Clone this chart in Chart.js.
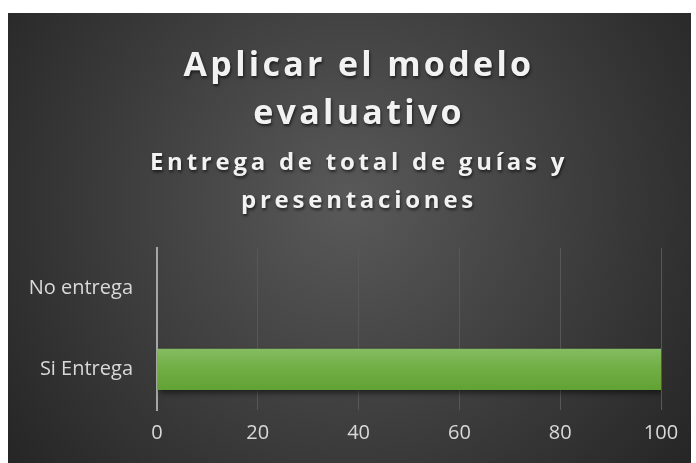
<!DOCTYPE html>
<html>
<head>
<meta charset="utf-8">
<script src="https://cdn.jsdelivr.net/npm/chart.js@4.4.1/dist/chart.umd.min.js"></script>
<style>
  html, body { margin: 0; background: #fff; }
  #wrap { position: absolute; left: 8px; top: 13px; width: 683px; height: 450px; }
</style>
</head>
<body>
<div id="wrap"><canvas id="entregas"></canvas></div>
<script>
// datos
var categories = ['No entrega', 'Si Entrega'];
var values = [0, 100];
var xTicks = [0, 20, 40, 60, 80, 100];
var titleLines = ['Aplicar el modelo', 'evaluativo'];
var subtitleLines = ['Entrega de total de guías y', 'presentaciones'];

var TITLE_CENTER = 351; // centro horizontal de los titulos (px del canvas)

// fondo oscuro + espaciado de letras en los titulos
var backdrop = {
  id: 'backdrop',
  beforeDraw: function (chart) {
    var ctx = chart.ctx, w = chart.width, h = chart.height;
    var g = ctx.createRadialGradient(w * 0.5, h * 0.42, 0, w * 0.5, h * 0.42, w * 0.62);
    g.addColorStop(0, '#595959');
    g.addColorStop(1, '#262626');
    ctx.save();
    ctx.fillStyle = g;
    ctx.fillRect(0, 0, w, h);
    ctx.restore();

    chart.boxes.forEach(function (box) {
      if (box.options && box.options.text !== undefined && !box._spaced) {
        box._spaced = true;
        var orig = box.draw;
        box.draw = function () {
          var c = this.ctx;
          c.save();
          c.translate(TITLE_CENTER - (this.left + this.right) / 2, 0);
          c.letterSpacing = this.options.font.size > 30 ? '3.3px' : '3.75px';
          c.shadowColor = 'rgba(0,0,0,0.6)';
          c.shadowOffsetX = 1;
          c.shadowOffsetY = 2;
          c.shadowBlur = 3;
          orig.apply(this, arguments);
          c.restore();
        };
      }
    });
  },
  beforeDatasetsDraw: function (chart) {
    var ctx = chart.ctx;
    ctx.save();
    ctx.shadowColor = 'rgba(0,0,0,0.55)';
    ctx.shadowOffsetX = 2;
    ctx.shadowOffsetY = 3;
    ctx.shadowBlur = 6;
  },
  afterDatasetsDraw: function (chart) {
    chart.ctx.restore();
  }
};

function barFill(c) {
  var chart = c.chart;
  if (!chart.chartArea) return '#70ad47';
  var y = chart.scales.y;
  var mid = y.getPixelForValue(c.dataIndex);
  var half = (chart.chartArea.height / categories.length) * 0.255;
  var g = chart.ctx.createLinearGradient(0, mid - half, 0, mid + half);
  g.addColorStop(0, '#84bd62');
  g.addColorStop(0.5, '#70ad42');
  g.addColorStop(1, '#61a235');
  return g;
}

var ctx = document.getElementById('entregas').getContext('2d');
var chart = new Chart(ctx, {
  type: 'bar',
  data: {
    labels: categories,
    datasets: [
      {
        data: values,
        backgroundColor: barFill,
        borderWidth: 0,
        barPercentage: 0.51,
        categoryPercentage: 1,
      },
    ],
  },
  options: {
    indexAxis: 'y',
    responsive: true,
    maintainAspectRatio: false,
    animation: false,
    layout: { padding: { left: 0, right: 30, top: 0, bottom: 0 } },
    plugins: {
      legend: { display: false },
      tooltip: { enabled: false },
      title: {
        display: true,
        text: titleLines,
        color: '#f2f2f2',
        font: { family: 'Open Sans', size: 34, weight: 'bold', lineHeight: 1.41 },
        padding: { top: 29, bottom: 6 },
      },
      subtitle: {
        display: true,
        text: subtitleLines,
        color: '#f2f2f2',
        font: { family: 'Open Sans', size: 24, weight: 'bold', lineHeight: 1.6 },
        padding: { top: 0, bottom: 27 },
      },
    },
    scales: {
      x: {
        min: 0,
        max: 100,
        afterBuildTicks: function (s) {
          s.ticks = xTicks.map(function (v) { return { value: v }; });
        },
        afterFit: function (s) { s.height = 53; },
        grid: {
          color: function (c) { return c.tick && c.tick.value === 0 ? 'rgba(0,0,0,0)' : '#575757'; },
          lineWidth: 1,
          drawTicks: false,
        },
        border: { display: false },
        ticks: {
          color: '#d9d9d9',
          padding: 11,
          font: { family: 'Open Sans', size: 20 },
        },
      },
      y: {
        afterFit: function (s) { s.width = 149; },
        grid: { display: false, drawTicks: false },
        border: { display: true, color: '#a6a6a6', width: 2 },
        ticks: {
          color: '#d9d9d9',
          padding: 24,
          font: { family: 'Open Sans', size: 20 },
        },
      },
    },
  },
  plugins: [backdrop],
});
</script>
</body>
</html>
